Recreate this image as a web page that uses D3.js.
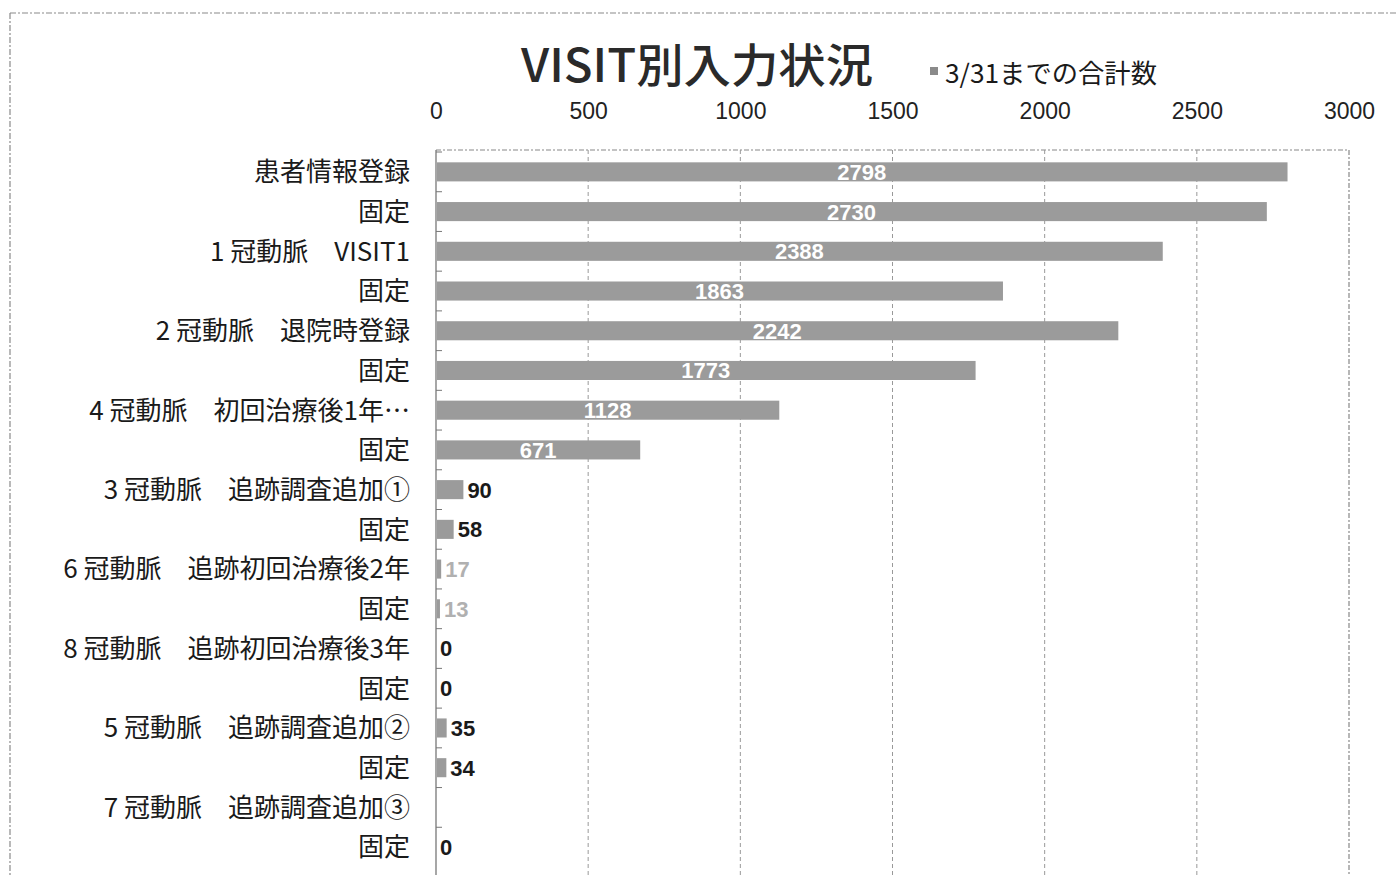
<!DOCTYPE html>
<html><head><meta charset="utf-8">
<script src="https://cdn.jsdelivr.net/npm/d3@7"></script>
<style>
html,body{margin:0;padding:0;background:#fff;}
svg{display:block;}
</style></head>
<body>
<svg id="chart" width="1397" height="875"></svg>
<script>
const categories = [
  "患者情報登録","固定",
  "1 冠動脈　VISIT1","固定",
  "2 冠動脈　退院時登録","固定",
  "4 冠動脈　初回治療後1年…","固定",
  "3 冠動脈　追跡調査追加①","固定",
  "6 冠動脈　追跡初回治療後2年","固定",
  "8 冠動脈　追跡初回治療後3年","固定",
  "5 冠動脈　追跡調査追加②","固定",
  "7 冠動脈　追跡調査追加③","固定"
];
const values = [2798,2730,2388,1863,2242,1773,1128,671,90,58,17,13,0,0,35,34,null,0];
const xTicks = [0,500,1000,1500,2000,2500,3000];
const title = "VISIT別入力状況";
const legendLabel = "3/31までの合計数";

const svg = d3.select("#chart");
const rows = categories.map((c,i)=>({key:i,cat:c,val:values[i]}));

const x = d3.scaleLinear().domain([0,3000]).range([436,1349]);
const y = d3.scaleBand().domain(rows.map(d=>d.key)).range([152,867]).paddingInner(0.52).paddingOuter(0.26);

const sans = "'Noto Sans CJK JP','Noto Sans',sans-serif";
const arial = "'Liberation Sans',Arial,sans-serif";

// outer frame (dashed)
svg.append("line").attr("x1",10).attr("x2",1397).attr("y1",13).attr("y2",13)
  .attr("stroke","#8a8a8a").attr("stroke-width",1.2).attr("stroke-dasharray","6,2,2,2");
svg.append("line").attr("x1",10).attr("x2",10).attr("y1",13).attr("y2",875)
  .attr("stroke","#8a8a8a").attr("stroke-width",1.2).attr("stroke-dasharray","6,2,2,2");

// plot area border
svg.append("line").attr("x1",x(0)).attr("x2",x(3000)).attr("y1",150).attr("y2",150)
  .attr("stroke","#888").attr("stroke-width",1.2).attr("stroke-dasharray","5,2,2,2");
svg.append("line").attr("x1",x(3000)).attr("x2",x(3000)).attr("y1",150).attr("y2",875)
  .attr("stroke","#888").attr("stroke-width",1.2).attr("stroke-dasharray","5,2,2,2");

// gridlines
svg.append("g").selectAll("line").data(xTicks.filter(t=>t>0&&t<3000)).join("line")
  .attr("x1",d=>x(d)).attr("x2",d=>x(d)).attr("y1",150).attr("y2",875)
  .attr("stroke","#999").attr("stroke-width",1).attr("stroke-dasharray","4,3");

// top axis labels
const xAxis = d3.axisTop(x).tickValues(xTicks).tickSize(0).tickPadding(0).tickFormat(d3.format("d"));
const gx = svg.append("g").attr("transform","translate(0,119)").call(xAxis);
gx.select(".domain").remove();
gx.selectAll("text").attr("font-family",arial).attr("font-size",23).attr("fill","#222").attr("dy",0);

// left axis line with inward ticks
svg.append("line").attr("x1",x(0)).attr("x2",x(0)).attr("y1",150).attr("y2",875)
  .attr("stroke","#777").attr("stroke-width",1.3);
const step = y.step();
svg.append("g").selectAll("line").data(rows).join("line")
  .attr("x1",x(0)).attr("x2",x(0)+6)
  .attr("y1",d=>y(d.key)-(step-y.bandwidth())/2).attr("y2",d=>y(d.key)-(step-y.bandwidth())/2)
  .attr("stroke","#777").attr("stroke-width",1);

// category labels
svg.append("g").selectAll("text").data(rows).join("text")
  .attr("x",410).attr("y",d=>y(d.key)+y.bandwidth()/2)
  .attr("dy","0.36em").attr("text-anchor","end")
  .attr("font-family",sans).attr("font-size",26).attr("fill","#1a1a1a")
  .text(d=>d.cat);

// bars
svg.append("g").selectAll("rect").data(rows.filter(d=>d.val!=null && d.val>0)).join("rect")
  .attr("x",x(0)+1).attr("y",d=>y(d.key))
  .attr("width",d=>Math.max(0,x(d.val)-x(0)-1)).attr("height",y.bandwidth())
  .attr("fill","#9b9b9b");

// value labels
const lab = rows.filter(d=>d.val!=null);
svg.append("g").selectAll("text").data(lab).join("text")
  .attr("x",d=> (x(d.val)-x(0))>100 ? (x(0)+x(d.val))/2 : x(d.val)+4)
  .attr("y",d=>y(d.key)+y.bandwidth()/2)
  .attr("dy","0.36em")
  .attr("text-anchor",d=> (x(d.val)-x(0))>100 ? "middle" : "start")
  .attr("font-family",arial).attr("font-weight","bold").attr("font-size",22)
  .attr("fill",d=> (x(d.val)-x(0))>100 ? "#ffffff" : (d.val>0 && d.val<30 ? "#b0b0b0" : "#1a1a1a"))
  .text(d=>d.val);

// title
svg.append("text").attr("x",697).attr("y",82).attr("text-anchor","middle")
  .attr("font-family",sans).attr("font-size",46).attr("font-weight","500").attr("fill","#2a2a2a")
  .attr("textLength",352).attr("lengthAdjust","spacingAndGlyphs")
  .text(title);

// legend
svg.append("rect").attr("x",930).attr("y",67).attr("width",8).attr("height",8).attr("fill","#8a8a8a");
svg.append("text").attr("x",945).attr("y",83)
  .attr("font-family",sans).attr("font-size",26).attr("fill","#1a1a1a")
  .attr("textLength",212).attr("lengthAdjust","spacingAndGlyphs")
  .text(legendLabel);
</script>
</body></html>
